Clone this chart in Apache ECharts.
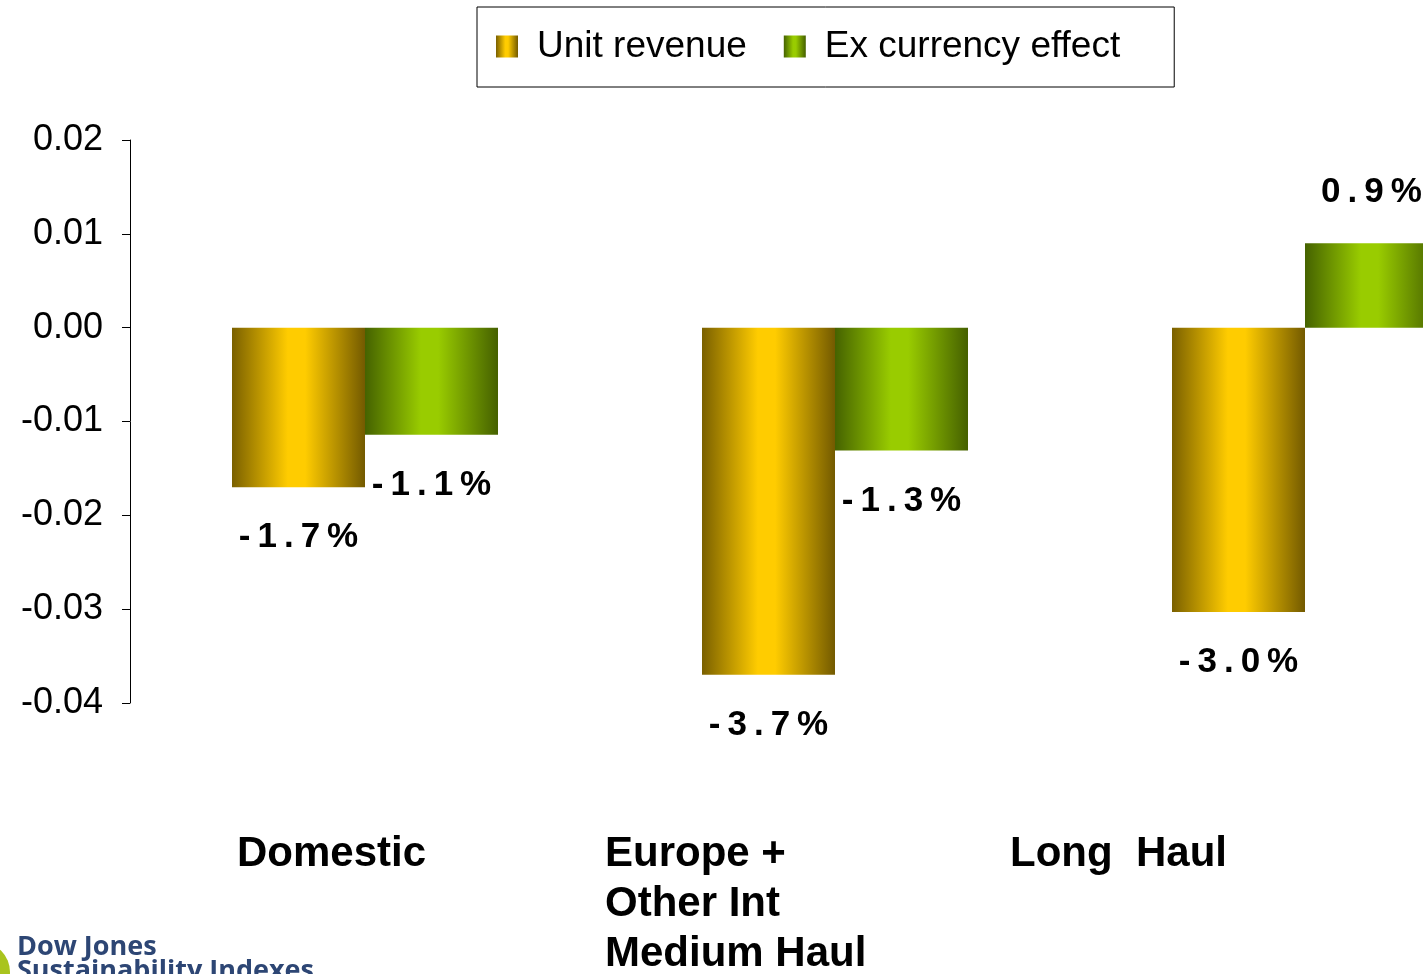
<!DOCTYPE html>
<html>
<head>
<meta charset="utf-8">
<script src="https://cdn.jsdelivr.net/npm/echarts@6/dist/echarts.min.js"></script>
<style>
html,body{margin:0;padding:0;background:#fff;}
#chart{width:1423px;height:974px;}
</style>
</head>
<body>
<div id="chart"></div>
<script>
const categories = ['Domestic', 'Europe +\nOther Int\nMedium Haul', 'Long  Haul'];
const seriesNames = ['Unit revenue', 'Ex currency effect'];
const unitRevenue = [-0.0170, -0.0370, -0.0303];
const exCurrency = [-0.0114, -0.0131, 0.0090];
const yMin = -0.04, yMax = 0.02, yStep = 0.01;

const labelLeft = [237, 605, 1010];

const chart = echarts.init(document.getElementById('chart'), null, {renderer: 'canvas'});

function grad(dark, bright, dark2) {
  return new echarts.graphic.LinearGradient(0, 0, 1, 0, [
    {offset: 0, color: dark},
    {offset: 0.42, color: bright},
    {offset: 0.55, color: bright},
    {offset: 1, color: dark2}
  ]);
}
const yellow = grad('#7a6000', '#ffcc00', '#735a00');
const green = grad('#456200', '#99cc00', '#456000');

function fmt(v) {
  return ((v * 100).toFixed(1) + '%').split('').join('\u2009');
}
function items(arr) {
  return arr.map(v => ({value: v, label: {position: v < 0 ? 'bottom' : 'top'}}));
}
const labelStyle = {
  show: true,
  distance: 33,
  fontFamily: 'Liberation Sans',
  fontWeight: 'bold',
  fontSize: 35,
  color: '#000',
  formatter: p => fmt(p.value)
};

const graphics = categories.map((c, i) => ({
  type: 'text',
  left: labelLeft[i],
  top: 829,
  style: {
    text: c,
    font: 'bold 42px "Liberation Sans"',
    fill: '#000',
    lineHeight: 50
  }
}));
graphics.push({
  type: 'circle',
  shape: {cx: -20, cy: 972, r: 30},
  style: {fill: '#a9c41e'}
});
graphics.push({
  type: 'text', left: 17, top: 934,
  style: {text: 'Dow Jones', font: 'bold 27px "Open Sans"', fill: '#2d4674'}
});
graphics.push({
  type: 'text', left: 17, top: 958,
  style: {text: 'Sustainability Indexes', font: 'bold 27px "Open Sans"', fill: '#2d4674'}
});

chart.setOption({
  animation: false,
  backgroundColor: '#fff',
  legend: {
    left: 477,
    top: 7,
    data: seriesNames,
    itemWidth: 22,
    itemHeight: 22,
    itemGap: 37,
    padding: [21, 54, 22, 19],
    borderColor: '#000',
    borderWidth: 1,
    icon: 'rect',
    textStyle: {
      fontFamily: 'Liberation Sans',
      fontSize: 37,
      color: '#000',
      padding: [0, 0, 0, 14]
    }
  },
  grid: {left: 130, width: 1410, top: 140, bottom: 271, containLabel: false, outerBoundsMode: 'none'},
  xAxis: {
    type: 'category',
    data: categories,
    axisLine: {show: false},
    axisTick: {show: false},
    axisLabel: {show: false},
    splitLine: {show: false}
  },
  yAxis: {
    type: 'value',
    min: yMin,
    max: yMax,
    interval: yStep,
    axisLine: {show: true, lineStyle: {color: '#000', width: 1}},
    axisTick: {show: true, length: 8, lineStyle: {color: '#000'}},
    splitLine: {show: false},
    axisLabel: {
      margin: 27,
      fontFamily: 'Liberation Sans',
      fontSize: 36,
      color: '#000',
      formatter: v => v.toFixed(2)
    }
  },
  series: [
    {
      name: seriesNames[0],
      type: 'bar',
      data: items(unitRevenue),
      barWidth: 133,
      barGap: '0%',
      itemStyle: {color: yellow},
      label: labelStyle
    },
    {
      name: seriesNames[1],
      type: 'bar',
      data: items(exCurrency),
      barWidth: 133,
      barGap: '0%',
      itemStyle: {color: green},
      label: labelStyle
    }
  ],
  graphic: graphics
});
</script>
</body>
</html>
